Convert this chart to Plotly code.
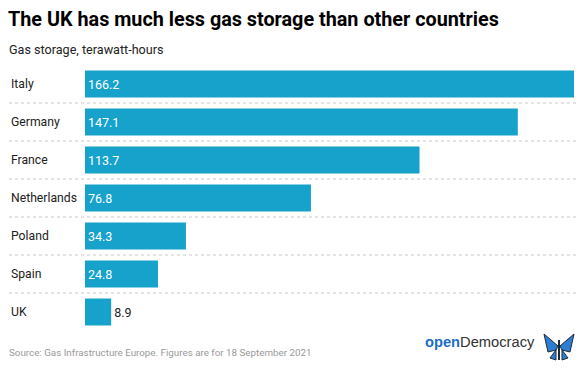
import plotly.graph_objects as go

countries = ["Italy", "Germany", "France", "Netherlands", "Poland", "Spain", "UK"]
storage_twh = [166.2, 147.1, 113.7, 76.8, 34.3, 24.8, 8.9]
value_labels = ["166.2", "147.1", "113.7", "76.8", "34.3", "24.8", "8.9"]

title = "The UK has much less gas storage than other countries"
subtitle = "Gas storage, terawatt-hours"
source = "Source: Gas Infrastructure Europe. Figures are for 18 September 2021"

W, H = 584, 369
L, R, T, B = 85, 10, 65, 38
pw = W - L - R

def px_to_paper_x(px):
    return (px - L) / pw

def px_to_paper_y(py):
    ph = H - T - B
    return 1 - (py - T) / ph

text_pos = ["inside" if v > 15 else "outside" for v in storage_twh]

fig = go.Figure(go.Bar(
    x=storage_twh,
    y=countries,
    orientation="h",
    marker=dict(color="#17a2cc", line=dict(width=0)),
    text=value_labels,
    textposition=text_pos,
    insidetextanchor="start",
    insidetextfont=dict(family="Roboto", size=12.5, color="white"),
    outsidetextfont=dict(family="Roboto", size=12.5, color="#222222"),
    textangle=0,
    cliponaxis=False,
    hoverinfo="skip",
))

n = len(countries)
fig.update_yaxes(
    autorange=False,
    range=[n - 0.5, -0.5],
    showticklabels=False,
    showgrid=False,
    zeroline=False,
    categoryorder="array",
    categoryarray=countries,
)
fig.update_xaxes(
    range=[0, max(storage_twh)],
    showticklabels=False,
    showgrid=False,
    zeroline=False,
)

annotations = []
for c in countries:
    annotations.append(dict(
        x=px_to_paper_x(9), xref="paper", y=c, yref="y",
        text=c, showarrow=False, xanchor="left", yanchor="middle",
        font=dict(family="Roboto", size=12.2, color="#222222"),
    ))

annotations += [
    dict(x=px_to_paper_x(6), xref="paper", y=px_to_paper_y(20), yref="paper",
         text="<b>" + title + "</b>", showarrow=False, xanchor="left", yanchor="middle",
         font=dict(family="Roboto", size=19.8, color="#000000")),
    dict(x=px_to_paper_x(7), xref="paper", y=px_to_paper_y(50), yref="paper",
         text=subtitle, showarrow=False, xanchor="left", yanchor="middle",
         font=dict(family="Roboto", size=12.6, color="#222222")),
    dict(x=px_to_paper_x(7), xref="paper", y=px_to_paper_y(352), yref="paper",
         text=source, showarrow=False, xanchor="left", yanchor="middle",
         font=dict(family="Roboto", size=9.8, color="#9a9a9a")),
    dict(x=px_to_paper_x(537), xref="paper", y=px_to_paper_y(342), yref="paper",
         text="<b><span style='color:#1a6fc4'>open</span></b>Democracy", showarrow=False,
         xanchor="right", yanchor="middle",
         font=dict(family="Liberation Sans", size=14.7, color="#333333")),
]

shapes = []
for i in range(n - 1):
    shapes.append(dict(
        type="line", xref="paper", yref="y",
        x0=px_to_paper_x(9), x1=px_to_paper_x(577), y0=i + 0.5, y1=i + 0.5,
        line=dict(color="#c8c8c8", width=1, dash="dot"),
    ))

# small butterfly logo mark
def P(px, py):
    return f"{px_to_paper_x(px):.5f},{px_to_paper_y(py):.5f}"

wing_l = f"M {P(558,346)} L {P(544,334)} L {P(548,352)} L {P(556,350)} Z"
wing_r = f"M {P(560,346)} L {P(574,334)} L {P(570,352)} L {P(562,350)} Z"
wing_l2 = f"M {P(556,350)} L {P(550,358)} L {P(556,360)} Z"
wing_r2 = f"M {P(562,350)} L {P(568,358)} L {P(562,360)} Z"
for path in (wing_l, wing_r, wing_l2, wing_r2):
    shapes.append(dict(type="path", xref="paper", yref="paper", path=path,
                       fillcolor="#2e7dd1", line=dict(color="#1b2a3a", width=1)))
shapes.append(dict(type="line", xref="paper", yref="paper",
                   x0=px_to_paper_x(559), x1=px_to_paper_x(559),
                   y0=px_to_paper_y(340), y1=px_to_paper_y(360),
                   line=dict(color="#1b2a3a", width=2)))

fig.update_layout(
    width=W, height=H,
    margin=dict(l=L, r=R, t=T, b=B),
    paper_bgcolor="white",
    plot_bgcolor="white",
    bargap=0.29,
    showlegend=False,
    annotations=annotations,
    shapes=shapes,
    font=dict(family="Roboto"),
)

fig.write_html("out.html", config={"displayModeBar": False},
               post_script="document.body.style.margin='0px';document.body.style.padding='0px';")
